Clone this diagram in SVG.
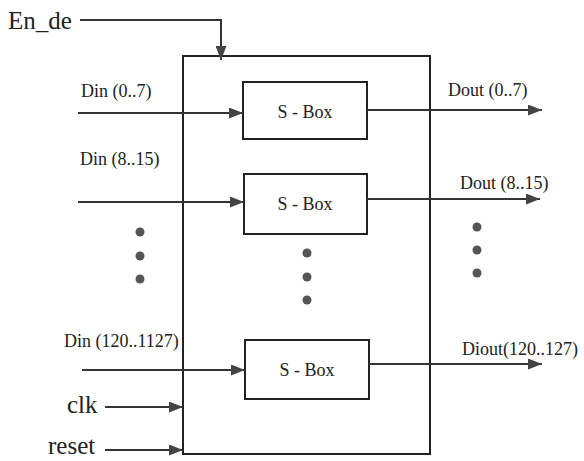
<svg xmlns="http://www.w3.org/2000/svg" width="584" height="461" viewBox="0 0 584 461">
<style>
text{font-family:"Liberation Serif","DejaVu Serif","Times New Roman",serif;fill:#222}
.lbl{font-size:18px}
.big{font-size:25px}
.box{fill:none;stroke:#222;stroke-width:2}
.wire{fill:none;stroke:#333;stroke-width:2}
.dot{fill:#555}
</style>
<defs>
<marker id="ah" viewBox="0 0 14 11" refX="14" refY="5.5" markerWidth="14" markerHeight="11" markerUnits="userSpaceOnUse" orient="auto">
<path d="M0,0 L14,5.5 L0,11 Z" fill="#444"/>
</marker>
</defs>
<rect width="584" height="461" fill="#fff"/>
<g id="top">
<rect class="box" x="183" y="56" width="247" height="398" stroke-width="1.6"/>
</g>
<g id="sbox1" font-family="Liberation Serif, DejaVu Serif, serif">
<rect class="box" x="243" y="82" width="124" height="57"/>
<text class="lbl" x="305" y="118" text-anchor="middle">S - Box</text>
</g>
<g id="sbox2" font-family="Liberation Serif, DejaVu Serif, serif">
<rect class="box" x="244" y="174" width="123" height="60"/>
<text class="lbl" x="305" y="210" text-anchor="middle">S - Box</text>
</g>
<g id="sbox3" font-family="Liberation Serif, DejaVu Serif, serif">
<rect class="box" x="245" y="340" width="124" height="59"/>
<text class="lbl" x="307" y="376" text-anchor="middle">S - Box</text>
</g>
<g id="labels" font-family="Liberation Serif, DejaVu Serif, serif">
<text class="big" x="8" y="29">En_de</text>
<text class="lbl" x="81" y="97">Din (0..7)</text>
<text class="lbl" x="80" y="165">Din (8..15)</text>
<text class="lbl" x="64" y="347">Din (120..1127)</text>
<text class="lbl" x="448" y="96">Dout (0..7)</text>
<text class="lbl" x="460" y="189">Dout (8..15)</text>
<text class="lbl" x="462" y="355">Diout(120..127)</text>
<text class="big" x="67" y="413">clk</text>
<text class="big" x="48" y="454">reset</text>
</g>
<g id="dots">
<circle class="dot" cx="140" cy="232" r="4.5"/>
<circle class="dot" cx="140" cy="256" r="4.5"/>
<circle class="dot" cx="140" cy="279" r="4.5"/>
<circle class="dot" cx="307" cy="253" r="4.5"/>
<circle class="dot" cx="307" cy="277" r="4.5"/>
<circle class="dot" cx="307" cy="300" r="4.5"/>
<circle class="dot" cx="477" cy="227" r="4.5"/>
<circle class="dot" cx="477" cy="250" r="4.5"/>
<circle class="dot" cx="477" cy="273" r="4.5"/>
</g>
<g id="connectors">
<path class="wire" d="M80,20 H221 V60" marker-end="url(#ah)"/>
<path class="wire" d="M78,113 H243" marker-end="url(#ah)"/>
<path class="wire" d="M78,202 H244" marker-end="url(#ah)"/>
<path class="wire" d="M82,370 H245" marker-end="url(#ah)"/>
<path class="wire" d="M367,110 H542" marker-end="url(#ah)"/>
<path class="wire" d="M367,199 H540" marker-end="url(#ah)"/>
<path class="wire" d="M369,364 H542" marker-end="url(#ah)"/>
<path class="wire" d="M105,407 H183" marker-end="url(#ah)"/>
<path class="wire" d="M105,450 H183" marker-end="url(#ah)"/>
</g>
</svg>
